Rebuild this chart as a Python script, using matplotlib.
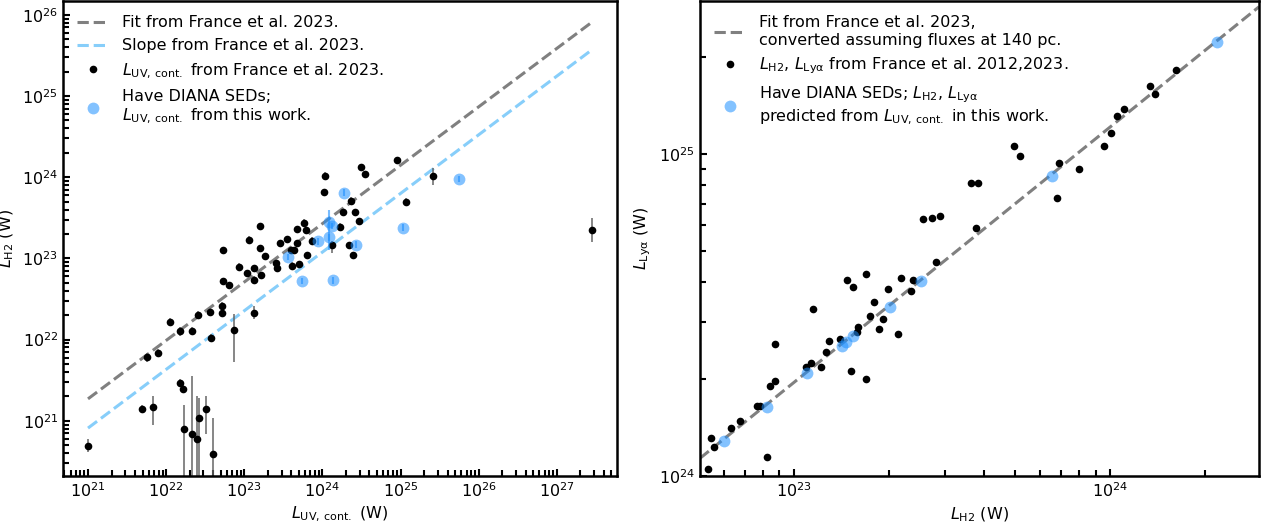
import numpy as np
import matplotlib
matplotlib.use("Agg")
import matplotlib.pyplot as plt
from matplotlib.ticker import FixedLocator, LogLocator, NullFormatter

plt.rcParams['font.family'] = ['DejaVu Sans']
plt.rcParams['font.size'] = 11.5

# ---- left panel: L_H2 vs L_UV,cont (log10 W) ----
lx_black = [21.00, 21.69, 21.83, 21.76, 21.90, 22.05, 22.18, 22.33, 22.41, 22.56,
            22.71, 22.72, 22.58, 22.87, 23.13, 22.18, 22.21, 22.23, 22.33, 22.40,
            22.42, 22.51, 22.60,
            22.73, 22.73, 22.81, 22.93, 23.06, 23.20, 23.20, 23.26, 23.03, 23.13,
            23.12, 23.21, 23.41, 23.42, 23.46, 23.55, 23.60, 23.64, 23.68, 23.68,
            23.76, 23.79, 23.80, 23.61, 23.70, 23.87, 24.03, 24.02, 24.12, 24.22,
            24.26, 24.36, 24.42, 24.47, 24.34, 24.39, 24.49, 24.55, 24.95, 25.41,
            25.07, 27.45]
ly_black = [20.69, 21.14, 21.17, 21.78, 21.84, 22.22, 22.10, 22.11, 22.30, 22.34,
            22.33, 22.41, 22.02, 22.12, 22.33, 21.46, 21.39, 20.90, 20.84, 20.77,
            21.03, 21.14, 20.59,
            23.10, 22.72, 22.67, 22.90, 23.23, 23.40, 23.13, 23.03, 22.82, 22.88,
            22.74, 22.79, 22.94, 22.88, 23.19, 23.24, 23.10, 23.10, 23.36, 23.19,
            23.44, 23.35, 23.04, 22.91, 22.93, 23.22, 24.02, 23.82, 23.17, 23.39,
            23.57, 23.71, 23.57, 23.46, 23.16, 23.04, 24.12, 24.04, 24.21, 24.01,
            23.70, 23.35]
# error bar extents in dex (9 = lower limit runs off the axis)
ly_black_up = [0.08, 0.05, 0.14, 0.05, 0.05, 0.05, 0.05, 0.05, 0.05, 0.05,
               0.05, 0.05, 0.05, 0.20, 0.08, 0.05, 0.05, 0.30, 0.71, 0.53,
               0.25, 0.17, 0.44,
               0.04, 0.04, 0.04, 0.04, 0.04, 0.04, 0.04, 0.04, 0.04, 0.04,
               0.04, 0.04, 0.04, 0.04, 0.04, 0.04, 0.04, 0.04, 0.04, 0.04,
               0.04, 0.04, 0.04, 0.04, 0.04, 0.04, 0.04, 0.04, 0.05, 0.04,
               0.04, 0.04, 0.04, 0.04, 0.04, 0.04, 0.04, 0.04, 0.04, 0.10,
               0.04, 0.15]
ly_black_dn = [0.08, 0.05, 0.22, 0.05, 0.05, 0.05, 0.05, 0.05, 0.05, 0.05,
               0.05, 0.05, 0.05, 0.40, 0.08, 0.05, 0.05, 9.0, 9.0, 9.0,
               9.0, 0.30, 9.0,
               0.04, 0.04, 0.04, 0.04, 0.04, 0.04, 0.04, 0.04, 0.04, 0.04,
               0.04, 0.04, 0.04, 0.04, 0.04, 0.04, 0.04, 0.04, 0.04, 0.04,
               0.04, 0.04, 0.04, 0.04, 0.04, 0.04, 0.04, 0.04, 0.10, 0.04,
               0.04, 0.04, 0.04, 0.04, 0.04, 0.04, 0.04, 0.04, 0.04, 0.10,
               0.04, 0.15]

lx_blue = [24.28, 24.09, 24.12, 24.08, 23.94, 23.56, 23.74, 24.13, 24.43, 25.03, 25.75]
ly_blue = [23.81, 23.45, 23.40, 23.26, 23.21, 23.02, 22.72, 22.73, 23.17, 23.38, 23.98]
ly_blue_up = [0.04, 0.15, 0.04, 0.04, 0.04, 0.04, 0.04, 0.04, 0.04, 0.04, 0.04]
ly_blue_dn = [0.04, 0.35, 0.04, 0.04, 0.04, 0.04, 0.04, 0.04, 0.04, 0.04, 0.04]

# France et al. 2023 relation, end points
fit_lx = [21.0, 27.45]
fit_ly = [21.27, 25.91]
slope_ly = [20.91, 25.57]

# ---- right panel: L_Lya vs L_H2 (log10 W) ----
rx_black = [24.209, 24.125, 24.142, 24.023, 24.045, 24.003, 23.981, 23.697, 23.716,
            23.839, 23.903, 23.832, 23.561, 23.581, 23.409, 23.436, 23.461, 23.577,
            23.449,
            23.228, 23.168, 23.187, 23.339, 23.378, 23.299, 23.370, 23.252, 23.061,
            23.241, 23.283, 23.203, 23.201, 23.269, 23.329, 23.146, 23.112, 23.103,
            23.055, 23.039, 23.086, 23.182, 23.227, 22.939, 22.939, 22.923, 22.884,
            22.894, 22.914, 22.830, 22.800, 22.738, 22.748, 22.729]
ry_black = [25.261, 25.212, 25.185, 25.119, 25.139, 25.066, 25.025, 25.025, 24.995,
            24.971, 24.953, 24.864, 24.909, 24.910, 24.798, 24.800, 24.807, 24.769,
            24.666,
            24.626, 24.609, 24.588, 24.614, 24.609, 24.581, 24.576, 24.539, 24.520,
            24.497, 24.486, 24.464, 24.448, 24.455, 24.441, 24.425, 24.420, 24.386,
            24.350, 24.338, 24.339, 24.326, 24.300, 24.410, 24.296, 24.280, 24.218,
            24.218, 24.058, 24.172, 24.148, 24.117, 24.091, 24.021]
rx_blue = [24.338, 23.815, 23.403, 23.303, 23.187, 23.164, 23.151, 23.041, 22.914, 22.778]
ry_blue = [25.347, 24.932, 24.606, 24.524, 24.436, 24.415, 24.404, 24.319, 24.215, 24.109]

rfit_lx = [22.703, 24.471]
rfit_ly = [24.055, 25.457]

# labelled decades on each axis
left_xdecades = [21, 22, 23, 24, 25, 26, 27]
left_ydecades = [21, 22, 23, 24, 25, 26]
right_xdecades = [23, 24]
right_ydecades = [24, 25]

GRAY = 'gray'
LIGHTBLUE = 'lightskyblue'
BLUE = 'dodgerblue'


def p10(a):
    return 10.0 ** np.asarray(a, dtype=float)


def style_axes(ax, xdec, ydec):
    for s in ax.spines.values():
        s.set_linewidth(1.8)
    ax.xaxis.set_major_locator(FixedLocator(p10(xdec)))
    ax.yaxis.set_major_locator(FixedLocator(p10(ydec)))
    ax.xaxis.set_minor_locator(LogLocator(base=10, subs=np.arange(2, 10), numticks=100))
    ax.yaxis.set_minor_locator(LogLocator(base=10, subs=np.arange(2, 10), numticks=100))
    ax.xaxis.set_minor_formatter(NullFormatter())
    ax.yaxis.set_minor_formatter(NullFormatter())
    ax.tick_params(which='both', direction='in', width=1.5, top=False, right=False)
    ax.tick_params(which='major', length=5)
    ax.tick_params(which='minor', length=4)


fig = plt.figure(figsize=(12.65, 5.30), dpi=100)
ax1 = fig.add_axes([63 / 1265, 54 / 530, 554 / 1265, 475 / 530])
ax2 = fig.add_axes([700 / 1265, 54 / 530, 559 / 1265, 475 / 530])

# left panel
ax1.set_xscale('log')
ax1.set_yscale('log')
ax1.plot(p10(fit_lx), p10(fit_ly), '--', color=GRAY, lw=2.2,
         label='Fit from France et al. 2023.')
ax1.plot(p10(fit_lx), p10(slope_ly), '--', color=LIGHTBLUE, lw=2.2,
         label='Slope from France et al. 2023.')

yb = p10(ly_black)
yerr_b = [yb - yb * 10.0 ** -np.asarray(ly_black_dn), yb * 10.0 ** np.asarray(ly_black_up) - yb]
ax1.errorbar(p10(lx_black), yb, yerr=yerr_b, fmt='none', ecolor='0.4', elinewidth=1.1)
ax1.plot(p10(lx_black), yb, 'o', color='k', ms=5.5, mec='none',
         label=r'$L_{\rm UV,\,cont.}$ from France et al. 2023.')

ybl = p10(ly_blue)
yerr_bl = [ybl - ybl * 10.0 ** -np.asarray(ly_blue_dn), ybl * 10.0 ** np.asarray(ly_blue_up) - ybl]
ax1.errorbar(p10(lx_blue), ybl, yerr=yerr_bl, fmt='none', ecolor=BLUE, alpha=0.6, elinewidth=1.5)
ax1.plot(p10(lx_blue), ybl, 'o', color=BLUE, alpha=0.55, ms=8.5, mec='none',
         label='Have DIANA SEDs;\n' + r'$L_{\rm UV,\,cont.}$ from this work.')

ax1.set_xlim(10 ** 20.68, 10 ** 27.77)
ax1.set_ylim(10 ** 20.32, 10 ** 26.17)
ax1.set_xlabel(r'$L_{\rm UV,\,cont.}$ (W)')
ax1.set_ylabel(r'$L_{\rm H2}$ (W)')
style_axes(ax1, left_xdecades, left_ydecades)
ax1.legend(loc='upper left', frameon=False)

# right panel
ax2.set_xscale('log')
ax2.set_yscale('log')
ax2.plot(p10(rfit_lx), p10(rfit_ly), '--', color=GRAY, lw=2.2,
         label='Fit from France et al. 2023,\nconverted assuming fluxes at 140 pc.')
ax2.plot(p10(rx_black), p10(ry_black), 'o', color='k', ms=5.5, mec='none',
         label=r'$L_{\rm H2}$, $L_{\rm Ly\alpha}$ from France et al. 2012,2023.')
ax2.plot(p10(rx_blue), p10(ry_blue), 'o', color=BLUE, alpha=0.55, ms=8.5, mec='none',
         label=r'Have DIANA SEDs; $L_{\rm H2}$, $L_{\rm Ly\alpha}$' + '\n'
               + r'predicted from $L_{\rm UV,\,cont.}$ in this work.')
ax2.set_xlim(10 ** 22.703, 10 ** 24.471)
ax2.set_ylim(1e24, 10 ** 25.475)
ax2.set_xlabel(r'$L_{\rm H2}$ (W)')
ax2.set_ylabel(r'$L_{\rm Ly\alpha}$ (W)')
style_axes(ax2, right_xdecades, right_ydecades)
ax2.legend(loc='upper left', frameon=False)

fig.savefig('out.png', dpi=100)
